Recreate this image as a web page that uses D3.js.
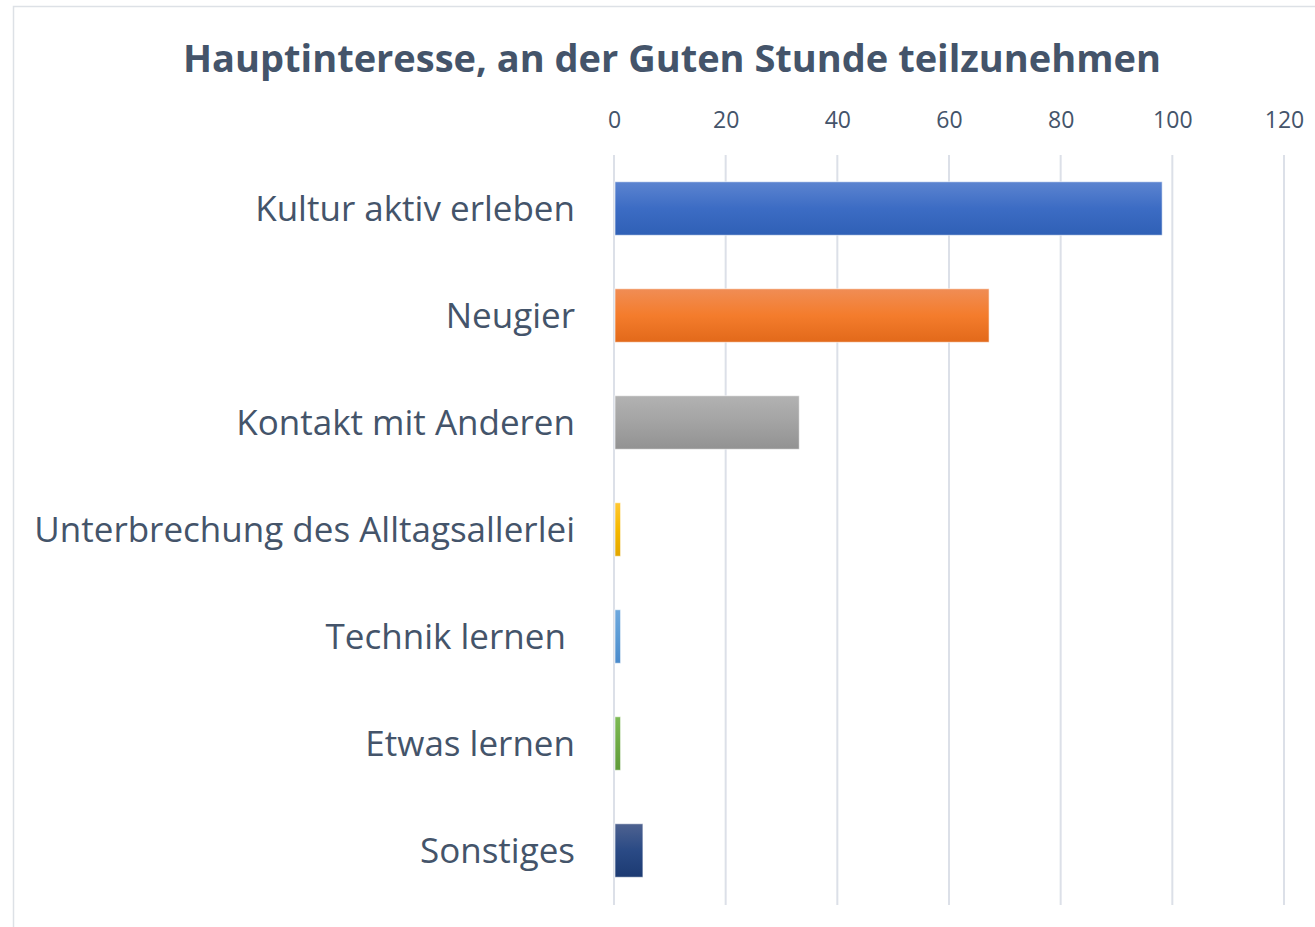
<!DOCTYPE html>
<html>
<head>
<meta charset="utf-8">
<script src="https://cdn.jsdelivr.net/npm/d3@7"></script>
<style>
  body { margin: 0; background: #fff; }
  text { font-family: "Open Sans", "Noto Sans", sans-serif; white-space: pre; }
</style>
</head>
<body>
<svg id="chart"></svg>
<script>
// Data
const categories = ["Kultur aktiv erleben", "Neugier", "Kontakt mit Anderen",
  "Unterbrechung des Alltagsallerlei", "Technik lernen ", "Etwas lernen", "Sonstiges"];
const values = [98, 67, 33, 1, 1, 1, 5];
const tickValues = [0, 20, 40, 60, 80, 100, 120];
const barColors = [
  ["#5C84D0", "#3C6CC4", "#2F60B6"],
  ["#F08D55", "#F47C2C", "#E2691A"],
  ["#B2B2B2", "#A3A3A3", "#929292"],
  ["#FFC733", "#F5B800", "#E2A600"],
  ["#6EA8DD", "#5B9BD5", "#4A8ACB"],
  ["#7DBA55", "#6EAA45", "#5E9A3A"],
  ["#4E6290", "#2A4A85", "#1C3A72"]
];
const title = "Hauptinteresse, an der Guten Stunde teilzunehmen";

const width = 1315, height = 927;
const margin = { top: 155, left: 614 };
const textColor = "#44546A";

const svg = d3.select("#chart")
  .attr("width", width)
  .attr("height", height);

// outer chart border (right and bottom edges fall outside the picture)
svg.append("rect")
  .attr("x", 13.5).attr("y", 6.5)
  .attr("width", width).attr("height", height)
  .attr("fill", "none")
  .attr("stroke", "#DDE1E6")
  .attr("stroke-width", 1.5);

const x = d3.scaleLinear().domain([0, 120]).range([0, 670]);
const y = d3.scaleBand().domain(categories).range([0, 749]).paddingInner(0.5).paddingOuter(0.25);

const defs = svg.append("defs");
barColors.forEach((c, i) => {
  const g = defs.append("linearGradient")
    .attr("id", `grad${i}`)
    .attr("x1", 0).attr("y1", 0).attr("x2", 0).attr("y2", 1);
  g.append("stop").attr("offset", "0%").attr("stop-color", c[0]);
  g.append("stop").attr("offset", "50%").attr("stop-color", c[1]);
  g.append("stop").attr("offset", "100%").attr("stop-color", c[2]);
});

const chart = svg.append("g")
  .attr("transform", `translate(${margin.left},${margin.top})`);

// gridlines
chart.append("g")
  .selectAll("line")
  .data(tickValues)
  .join("line")
  .attr("x1", d => x(d)).attr("x2", d => x(d))
  .attr("y1", 0).attr("y2", 750)
  .attr("stroke", "#DCE0E8")
  .attr("stroke-width", 2);

// top axis labels
const xAxis = d3.axisTop(x).tickValues(tickValues).tickSize(0).tickPadding(0);
const xAxisG = chart.append("g")
  .attr("transform", "translate(0,-27.5)")
  .call(xAxis);
xAxisG.select(".domain").remove();
xAxisG.selectAll("text")
  .attr("font-size", 23)
  .attr("fill", textColor)
  .attr("font-family", "\"Open Sans\", sans-serif");

// bars
chart.append("g")
  .selectAll("rect")
  .data(values)
  .join("rect")
  .attr("x", x(0) + 1)
  .attr("y", (d, i) => y(categories[i]))
  .attr("width", d => x(d))
  .attr("height", y.bandwidth())
  .attr("fill", (d, i) => `url(#grad${i})`)
  .attr("stroke", "rgba(255,255,255,0.6)")
  .attr("stroke-width", 1);

// category labels
chart.append("g")
  .selectAll("text")
  .data(categories)
  .join("text")
  .attr("x", -39)
  .attr("y", d => y(d) + y.bandwidth() / 2)
  .attr("dy", "0.35em")
  .attr("text-anchor", "end")
  .attr("font-size", 35)
  .attr("fill", textColor)
  .text(d => d);

// title
svg.append("text")
  .attr("x", 672)
  .attr("y", 72)
  .attr("text-anchor", "middle")
  .attr("font-size", 38)
  .attr("font-weight", "bold")
  .attr("fill", textColor)
  .text(title);
</script>
</body>
</html>
